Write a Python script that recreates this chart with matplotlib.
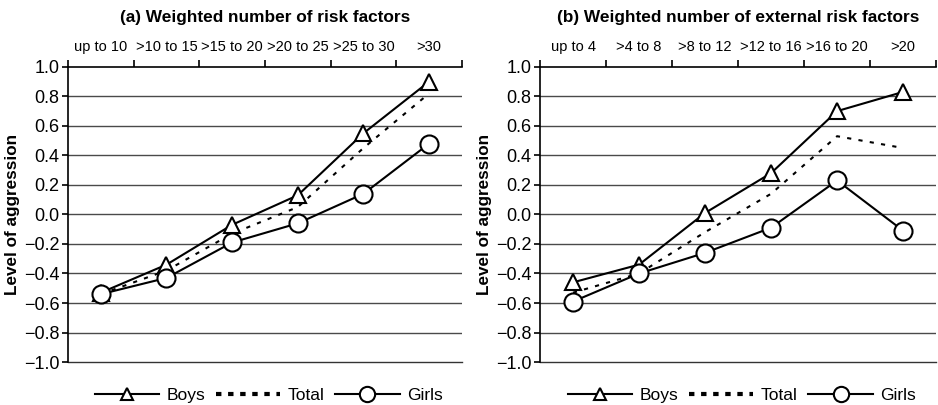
import matplotlib
matplotlib.use("Agg")
import matplotlib.pyplot as plt
from matplotlib import font_manager
import numpy as np

cats_a = ["up to 10", ">10 to 15", ">15 to 20", ">20 to 25", ">25 to 30", ">30"]
boys_a = [-0.53, -0.34, -0.07, 0.13, 0.55, 0.90]
total_a = [-0.54, -0.38, -0.13, 0.05, 0.45, 0.82]
girls_a = [-0.54, -0.43, -0.19, -0.06, 0.14, 0.48]

cats_b = ["up to 4", ">4 to 8", ">8 to 12", ">12 to 16", ">16 to 20", ">20"]
boys_b = [-0.46, -0.34, 0.01, 0.28, 0.70, 0.83]
total_b = [-0.53, -0.40, -0.12, 0.14, 0.53, 0.45]
girls_b = [-0.59, -0.40, -0.26, -0.09, 0.23, -0.11]

titles = ["(a) Weighted number of risk factors", "(b) Weighted number of external risk factors"]
yticks = [1.0, 0.8, 0.6, 0.4, 0.2, 0.0, -0.2, -0.4, -0.6, -0.8, -1.0]

names = {f.name for f in font_manager.fontManager.ttflist}
base = "Liberation Sans" if "Liberation Sans" in names else "DejaVu Sans"
narrow = "Liberation Sans Narrow" if "Liberation Sans Narrow" in names else base
plt.rcParams['font.family'] = [base, 'DejaVu Sans']
plt.rcParams['axes.unicode_minus'] = True

fig = plt.figure(figsize=(9.38, 4.05), dpi=100)
axes = [fig.add_axes([0.0725, 0.106, 0.42, 0.729]),
        fig.add_axes([0.5757, 0.106, 0.4223, 0.729])]

data = [(cats_a, boys_a, total_a, girls_a), (cats_b, boys_b, total_b, girls_b)]

for ax, (cats, boys, total, girls), title in zip(axes, data, titles):
    x = np.arange(len(cats))
    ax.set_xlim(-0.5, len(cats) - 0.5)
    ax.set_ylim(-1.0, 1.0)
    for yv in yticks[1:-1]:
        ax.axhline(yv, color='#4a4a4a', lw=1.0, zorder=1)
    ax.axhline(-1.0, color='#333333', lw=1.0, zorder=1, clip_on=False)
    lb, = ax.plot(x, boys, color='black', lw=1.5, marker='^', markersize=11,
                  markerfacecolor='white', markeredgecolor='black', markeredgewidth=1.5,
                  zorder=3, label='Boys')
    lt, = ax.plot(x, total, color='black', lw=1.5, linestyle=(0, (2, 3.5)), zorder=2,
                  label='Total')
    lg, = ax.plot(x, girls, color='black', lw=1.5, marker='o', markersize=13,
                  markerfacecolor='white', markeredgecolor='black', markeredgewidth=1.5,
                  zorder=4, label='Girls')
    for s in ['right', 'bottom']:
        ax.spines[s].set_visible(False)
    ax.spines['top'].set_linewidth(1.2)
    ax.spines['left'].set_linewidth(1.2)
    ax.xaxis.tick_top()
    ax.set_xticks(np.arange(-0.5, len(cats), 1.0))
    ax.set_xticklabels([])
    ax.set_xticks(x, minor=True)
    ax.set_xticklabels(cats, minor=True, fontsize=10.5, family=[narrow, 'DejaVu Sans'])
    ax.tick_params(axis='x', which='major', direction='out', length=5, width=1.2, top=True, bottom=False)
    ax.tick_params(axis='x', which='minor', length=0, pad=9, top=True, bottom=False)
    ax.set_yticks(yticks)
    ax.set_yticklabels([f"{v:.1f}".replace('-', '\u2212') for v in yticks], fontsize=13)
    ax.tick_params(axis='y', direction='out', length=4, width=1.2, pad=2)
    ax.set_ylabel("Level of aggression", fontsize=12.3, fontweight='bold', labelpad=3)
    ax.set_title(title, fontsize=12.4, fontweight='bold', pad=32)
    leg = ax.legend(handles=[lb, lt, lg], loc='upper center', bbox_to_anchor=(0.51, -0.035),
                    ncol=3, frameon=False, fontsize=12.5, handlelength=3.7, handletextpad=0.45,
                    columnspacing=0.6)
    for h in leg.get_lines():
        if h.get_label() == 'Total':
            h.set_linestyle((0, (1.3, 1.6)))
            h.set_linewidth(3)
        elif h.get_label() == 'Boys':
            h.set_markersize(9)
        elif h.get_label() == 'Girls':
            h.set_markersize(11)

fig.savefig("out.png", dpi=100)
